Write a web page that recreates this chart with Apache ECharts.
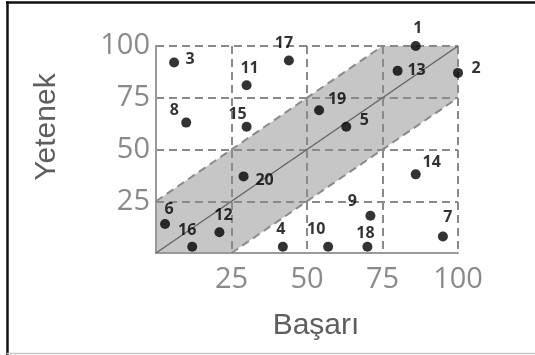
<!DOCTYPE html>
<html>
<head>
<meta charset="utf-8">
<script src="https://cdn.jsdelivr.net/npm/echarts@6/dist/echarts.min.js"></script>
<style>
  html, body { margin: 0; padding: 0; background: #fff; }
  #chart { width: 535px; height: 355px; }
</style>
</head>
<body>
<div id="chart"></div>
<script>
// Values
const pointNames = ['1', '2', '3', '4', '5', '6', '7', '8', '9', '10',
                    '11', '12', '13', '14', '15', '16', '17', '18', '19', '20'];
const basari  = [86, 100, 6, 42, 63, 3, 95, 10, 71, 57, 30, 21, 80, 86, 30, 12, 44, 70, 54, 29];
const yetenek = [100, 87, 92, 3, 61, 14, 8, 63, 18, 3, 81, 10, 88, 38, 61, 3, 93, 3, 69, 37];
// label offset from each point, in pixels
const labelOffsets = [[2, -18], [18, -4], [16, -3], [-2, -17], [18, -6], [4, -15], [5, -19],
                      [-12, -12], [-18, -14], [-12, -17], [3, -17], [4, -17], [19, 0], [16, -12],
                      [-9, -12], [-5, -16], [-5, -17], [-2, -13], [18, -11], [21, 4]];
const axisTicks = [25, 50, 75, 100];
const bandHalfWidth = 25;

const chart = echarts.init(document.getElementById('chart'));

const points = pointNames.map(function (n, i) {
    return {
        name: n,
        value: [basari[i], yetenek[i]],
        label: { offset: labelOffsets[i] }
    };
});

// band between y = x - w and y = x + w, clipped to the 0..100 square
const w = bandHalfWidth;
const bandPoly = [[0, 0], [0, w], [100 - w, 100], [100, 100], [100, 100 - w], [w, 0]];

const dashed = { color: '#8a8a8a', width: 2, type: [8, 5] };

function tickText(v) {
    return axisTicks.indexOf(v) >= 0 ? String(v) : '';
}

const option = {
    backgroundColor: '#fff',
    animation: false,
    grid: { left: 156, right: 77, top: 46, bottom: 102 },
    xAxis: {
        type: 'value', min: 0, max: 100, interval: 25, z: 4,
        axisLine: { show: true, lineStyle: { color: '#9a9a9a', width: 2 } },
        axisTick: { show: false },
        axisLabel: {
            margin: 12,
            color: '#8a8a8a', fontSize: 29, fontFamily: 'Open Sans',
            formatter: tickText
        },
        splitLine: { show: true, lineStyle: dashed }
    },
    yAxis: {
        type: 'value', min: 0, max: 100, interval: 25, z: 4,
        axisLine: { show: true, lineStyle: { color: '#9a9a9a', width: 2 } },
        axisTick: { show: false },
        axisLabel: {
            margin: 6,
            color: '#8a8a8a', fontSize: 29, fontFamily: 'Open Sans',
            formatter: tickText
        },
        splitLine: { show: true, lineStyle: dashed }
    },
    graphic: [
        { type: 'line', shape: { x1: 7.5, y1: 1.5, x2: 7.5, y2: 355 }, style: { stroke: '#111', lineWidth: 2.5 } },
        { type: 'line', shape: { x1: 6, y1: 2.5, x2: 535, y2: 2.5 }, style: { stroke: '#111', lineWidth: 2.5 } },
        { type: 'line', shape: { x1: 7, y1: 353.5, x2: 535, y2: 353.5 }, style: { stroke: '#c8c8c8', lineWidth: 1.5 } },
        {
            type: 'text', x: 316, y: 326,
            style: { text: 'Başarı', font: '30px "Liberation Sans"', fill: '#5e5e5e', align: 'center', verticalAlign: 'middle' }
        },
        {
            type: 'text', x: 47, y: 127, rotation: Math.PI / 2,
            style: { text: 'Yetenek', font: '30px "Liberation Sans"', fill: '#5e5e5e', align: 'center', verticalAlign: 'middle' }
        }
    ],
    series: [
        {
            type: 'custom',
            z: 1,
            silent: true,
            renderItem: function (params, api) {
                return {
                    type: 'polygon',
                    shape: { points: bandPoly.map(function (p) { return api.coord(p); }) },
                    style: { fill: '#c6c6c6' }
                };
            },
            data: [0]
        },
        {
            type: 'line', z: 5, symbol: 'none', silent: true,
            lineStyle: dashed,
            data: [[0, w], [100 - w, 100]]
        },
        {
            type: 'line', z: 5, symbol: 'none', silent: true,
            lineStyle: dashed,
            data: [[w, 0], [100, 100 - w]]
        },
        {
            type: 'line', z: 5, symbol: 'none', silent: true,
            lineStyle: { color: '#666', width: 1.5 },
            data: [[0, 0], [100, 100]]
        },
        {
            type: 'scatter', z: 6,
            symbolSize: 10,
            itemStyle: { color: '#000' },
            label: {
                show: true,
                position: 'inside',
                formatter: '{b}',
                color: '#000',
                fontSize: 16,
                fontWeight: 'bold',
                fontFamily: 'Open Sans'
            },
            data: points
        }
    ]
};

chart.setOption(option);
</script>
</body>
</html>
